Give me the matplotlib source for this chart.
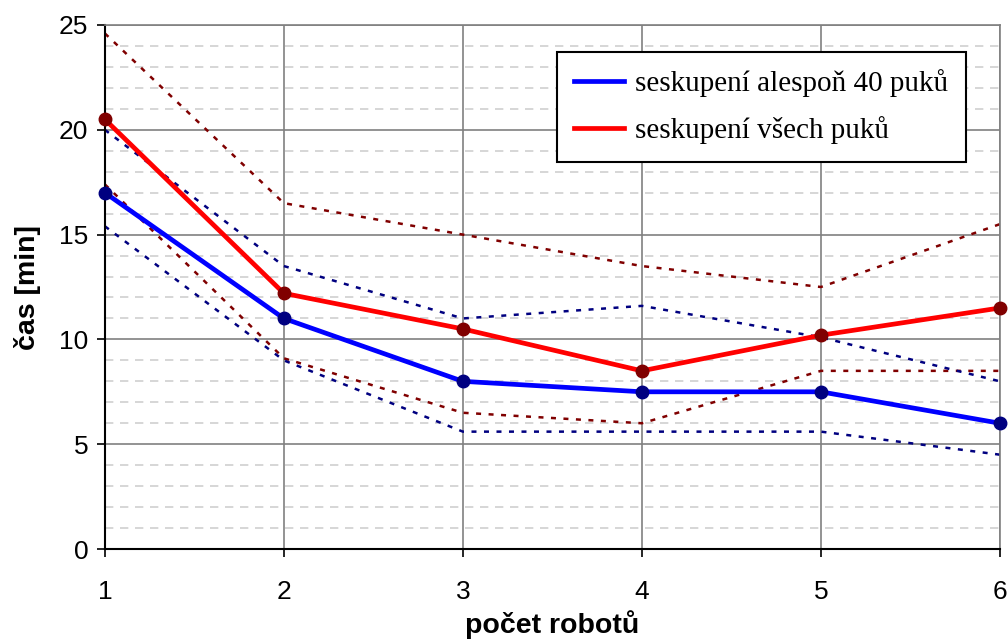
import matplotlib
matplotlib.use("Agg")
import matplotlib.pyplot as plt
from matplotlib.lines import Line2D
from matplotlib.ticker import MultipleLocator

roboti = [1, 2, 3, 4, 5, 6]

# seskupení alespoň 40 puků
cas_40 = [17.0, 11.0, 8.0, 7.5, 7.5, 6.0]
cas_40_max = [20.0, 13.5, 11.0, 11.6, 10.1, 8.0]
cas_40_min = [15.4, 9.0, 5.6, 5.6, 5.6, 4.5]

# seskupení všech puků
cas_vse = [20.5, 12.2, 10.5, 8.5, 10.2, 11.5]
cas_vse_max = [24.6, 16.5, 15.0, 13.5, 12.5, 15.5]
cas_vse_min = [17.4, 9.1, 6.5, 6.0, 8.5, 8.5]

legend_labels = ["seskupení alespoň 40 puků", "seskupení všech puků"]

fig = plt.figure(figsize=(10.08, 6.41), dpi=100)
ax = fig.add_axes([0.104, 0.1435, 0.888, 0.8175])

dot = (0, (2, 3))
ax.plot(roboti, cas_vse_max, color="#800000", lw=1.8, ls=dot, zorder=2)
ax.plot(roboti, cas_vse_min, color="#800000", lw=1.8, ls=dot, zorder=2)
ax.plot(roboti, cas_40_max, color="#000080", lw=1.8, ls=dot, zorder=2)
ax.plot(roboti, cas_40_min, color="#000080", lw=1.8, ls=dot, zorder=2)

ax.plot(roboti, cas_40, color="#0000ff", lw=3.4, marker="o", ms=9,
        mfc="#000080", mec="#000080", zorder=4, clip_on=False)
ax.plot(roboti, cas_vse, color="#ff0000", lw=3.4, marker="o", ms=9,
        mfc="#800000", mec="#800000", zorder=4, clip_on=False)

ax.set_xlim(1, 6)
ax.set_ylim(0, 25)
ax.xaxis.set_major_locator(MultipleLocator(1))
ax.yaxis.set_major_locator(MultipleLocator(5))
ax.yaxis.set_minor_locator(MultipleLocator(1))

ax.grid(which="major", color="#808080", lw=1.2, ls="-", zorder=0)
ax.grid(which="minor", axis="y", color="#d0d0d0", lw=1.2, ls=(0, (5, 4)), zorder=0)
ax.tick_params(which="minor", left=False)
ax.tick_params(which="major", direction="out", length=6, width=1.2,
               labelsize=19, colors="black")
ax.tick_params(axis="x", pad=16)
ax.tick_params(axis="y", pad=6)

for s in ["top", "right"]:
    ax.spines[s].set_color("#808080")
    ax.spines[s].set_linewidth(1.2)
for s in ["left", "bottom"]:
    ax.spines[s].set_color("black")
    ax.spines[s].set_linewidth(1.5)

ax.set_xlabel("počet robotů", fontsize=20.5, fontweight="bold",
              family="Liberation Sans")
ax.set_ylabel("čas [min]", fontsize=20.5, fontweight="bold",
              family="Liberation Sans")
ax.xaxis.set_label_coords(0.5, -0.117)
ax.yaxis.set_label_coords(-0.071, 0.5)
for t in ax.get_xticklabels() + ax.get_yticklabels():
    t.set_family("Liberation Sans")

handles = [Line2D([], [], color="#0000ff", lw=3.4),
           Line2D([], [], color="#ff0000", lw=3.4)]
leg = ax.legend(handles, legend_labels, loc="upper right",
                bbox_to_anchor=(0.962, 0.9485), borderaxespad=0,
                fancybox=False, framealpha=1, edgecolor="black",
                handlelength=1.7, handletextpad=0.4, borderpad=0.6,
                labelspacing=0.65, prop={"family": "Liberation Serif", "size": 21})
leg.get_frame().set_linewidth(1.5)

fig.savefig("out.png", dpi=100)
